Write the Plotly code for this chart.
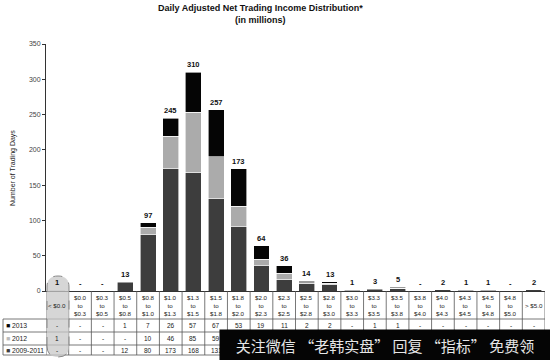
import plotly.graph_objects as go

# ---------------- data ----------------
categories = [
    "< $0.0", "$0.0<br>to<br>$0.3", "$0.3<br>to<br>$0.5", "$0.5<br>to<br>$0.8",
    "$0.8<br>to<br>$1.0", "$1.0<br>to<br>$1.3", "$1.3<br>to<br>$1.5", "$1.5<br>to<br>$1.8",
    "$1.8<br>to<br>$2.0", "$2.0<br>to<br>$2.3", "$2.3<br>to<br>$2.5", "$2.5<br>to<br>$2.8",
    "$2.8<br>to<br>$3.0", "$3.0<br>to<br>$3.3", "$3.3<br>to<br>$3.5", "$3.5<br>to<br>$3.8",
    "$3.8<br>to<br>$4.0", "$4.0<br>to<br>$4.3", "$4.3<br>to<br>$4.5", "$4.5<br>to<br>$4.8",
    "$4.8<br>to<br>$5.0", "> $5.0",
]
days_2013 = [0, 0, 0, 1, 7, 26, 57, 67, 53, 19, 11, 2, 2, 0, 1, 1, 0, 0, 0, 0, 0, 0]
days_2012 = [1, 0, 0, 0, 10, 46, 85, 59, 29, 9, 8, 1, 2, 0, 0, 1, 0, 0, 0, 0, 0, 0]
days_2009_2011 = [0, 0, 0, 12, 80, 173, 168, 131, 91, 36, 17, 11, 9, 1, 2, 3, 0, 2, 1, 1, 0, 2]
series_names = ["2009-2011", "2012", "2013"]
y_ticks = [0, 50, 100, 150, 200, 250, 300, 350]

title_text = "Daily Adjusted Net Trading Income Distribution*<br>(in millions)"
y_title = "Number of Trading Days"
watermark = "关注微信 “老韩实盘” 回复 “指标” 免费领"

# ---------------- styling ----------------
colors = {"2009-2011": "#3d3d3d", "2012": "#ababab", "2013": "#050505"}
FONT = "Liberation Sans, Arial, sans-serif"
W, H = 550, 360
L, R, T, B = 46, 545, 44, 291


def px_x(p):
    return (p - L) / (R - L)


def px_y(p):
    return (B - p) / (B - T)


totals = [a + b + c for a, b, c in zip(days_2009_2011, days_2012, days_2013)]
series = {"2009-2011": days_2009_2011, "2012": days_2012, "2013": days_2013}

fig = go.Figure()
for name in series_names:
    vals = [v if v else None for v in series[name]]
    fig.add_bar(
        x=categories, y=vals, name=name,
        marker=dict(color=colors[name], line=dict(color="white", width=0.6)),
    )

shapes = []
line_style = dict(color="#555555", width=0.8)
# horizontal table lines
for py in [319, 332, 345, 355]:
    shapes.append(dict(type="line", xref="paper", yref="paper",
                       x0=px_x(3), x1=1, y0=px_y(py), y1=px_y(py), line=line_style))
# vertical table lines (category boundaries)
for i in range(len(categories) + 1):
    shapes.append(dict(type="line", xref="x", yref="paper",
                       x0=i - 0.5, x1=i - 0.5, y0=0, y1=px_y(355), line=line_style))
# label column left border
shapes.append(dict(type="line", xref="paper", yref="paper",
                   x0=px_x(3), x1=px_x(3), y0=px_y(319), y1=px_y(355), line=line_style))

# dashed capsule highlighting the first column
cx0, cx1 = px_x(47), px_x(69)
cy0, cy1 = px_y(357), px_y(276)
ry = 11 / (B - T)
cm = (cx0 + cx1) / 2
path = (f"M {cx0},{cy0 + ry} L {cx0},{cy1 - ry} Q {cx0},{cy1} {cm},{cy1} "
        f"Q {cx1},{cy1} {cx1},{cy1 - ry} L {cx1},{cy0 + ry} Q {cx1},{cy0} {cm},{cy0} "
        f"Q {cx0},{cy0} {cx0},{cy0 + ry} Z")
shapes.append(dict(type="path", xref="paper", yref="paper", path=path,
                   fillcolor="rgba(200,200,200,0.75)",
                   line=dict(color="#888888", width=1, dash="dash")))

ann = []
# title
ann.append(dict(text="<b>" + title_text.replace("<br>", "</b><br><b>") + "</b>",
                xref="paper", yref="paper", x=px_x(260), y=px_y(14),
                xanchor="center", yanchor="middle", showarrow=False,
                font=dict(family=FONT, size=9, color="#111111")))
# y title
ann.append(dict(text=y_title, xref="paper", yref="paper", x=px_x(13), y=px_y(168),
                textangle=-90, showarrow=False, xanchor="center", yanchor="middle",
                font=dict(family=FONT, size=7, color="#222222")))
# totals above bars
for i, t in enumerate(totals):
    ann.append(dict(text=f"<b>{t if t else '-'}</b>", xref="x", yref="y", x=i, y=t,
                    xanchor="center", yanchor="bottom", yshift=1, showarrow=False,
                    font=dict(family=FONT, size=7.5, color="#111111")))
# header row
for i, c in enumerate(categories):
    ann.append(dict(text=c, xref="x", yref="paper", x=i, y=px_y(305.5),
                    xanchor="center", yanchor="middle", showarrow=False,
                    font=dict(family=FONT, size=6.2, color="#222222")))
# table rows
rows = [("2013", 325.5, "#050505"), ("2012", 338.5, "#bbbbbb"), ("2009-2011", 350, "#3d3d3d")]
for name, py, col in rows:
    ann.append(dict(text=f"<span style='color:{col}'>■</span> {name}", xref="paper", yref="paper",
                    x=px_x(4), y=px_y(py), xanchor="left", yanchor="middle", showarrow=False,
                    font=dict(family=FONT, size=6.8, color="#222222")))
    for i, v in enumerate(series[name]):
        ann.append(dict(text=str(v) if v else "-", xref="x", yref="paper", x=i, y=px_y(py),
                        xanchor="center", yanchor="middle", showarrow=False,
                        font=dict(family=FONT, size=6.5, color="#222222")))
# watermark overlay
ann.append(dict(text=watermark, xref="paper", yref="paper", x=px_x(385), y=px_y(345.5),
                xanchor="center", yanchor="middle", showarrow=False,
                width=326, height=27, borderpad=2, bgcolor="#050505", align="center",
                font=dict(family="Noto Sans CJK SC", size=15, color="#e6e6e6")))

fig.update_layout(
    width=W, height=H, barmode="stack", bargap=0.3,
    margin=dict(l=L, r=W - R, t=T, b=H - B),
    paper_bgcolor="white", plot_bgcolor="white",
    showlegend=False, shapes=shapes, annotations=ann,
    font=dict(family=FONT), hovermode=False,
)
fig.update_xaxes(type="category", categoryarray=categories, range=[-0.5, len(categories) - 0.5],
                 showticklabels=False, ticks="", showline=True, linecolor="#333333", linewidth=1,
                 showgrid=False, zeroline=False)
fig.update_yaxes(range=[0, 350], tickvals=y_ticks, ticks="outside", ticklen=3, tickcolor="#333333",
                 showline=True, linecolor="#333333", linewidth=1, showgrid=False, zeroline=False,
                 tickfont=dict(family=FONT, size=7, color="#444444"))

fig.write_html("out.html", config={"displayModeBar": False},
               post_script="document.body.style.margin='0';document.body.style.overflow='hidden';")
